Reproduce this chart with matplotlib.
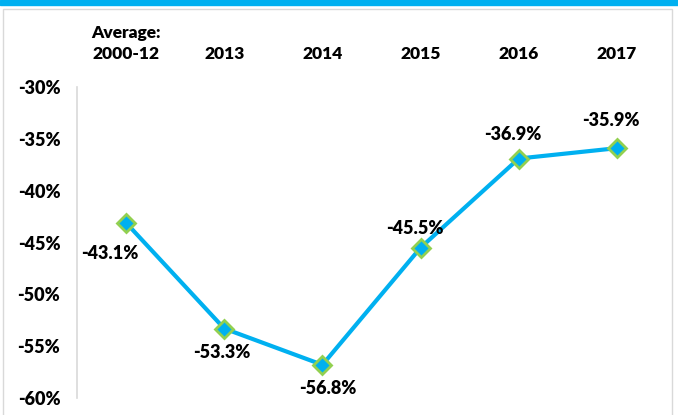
import matplotlib.pyplot as plt
from matplotlib.patches import Rectangle

categories = ['Average:\n2000-12', '2013', '2014', '2015', '2016', '2017']
values = [-43.1, -53.3, -56.8, -45.5, -36.9, -35.9]
yticks = [-30, -35, -40, -45, -50, -55, -60]

# label offsets (points) relative to each marker
offsets = [(-12, -22), (-2, -17), (4, -17), (-4, 14), (-4, 17), (-4, 20)]

blue = '#00B0F0'
green = '#92D050'
plt.rcParams['font.family'] = ['Lato', 'DejaVu Sans']

fig = plt.figure(figsize=(6.78, 4.15), dpi=100)
fig.patches.append(Rectangle((0, 1 - 5 / 415), 1, 5 / 415, transform=fig.transFigure,
                             color=blue, zorder=0))
fig.patches.append(Rectangle((3 / 678, -0.05), 669 / 678, 0.05 + 1 - 9 / 415,
                             transform=fig.transFigure, fill=False,
                             edgecolor='#D9D9D9', linewidth=1, zorder=0))

ax = fig.add_axes([77 / 678, 1 - 398 / 415, (666 - 77) / 678, (398 - 87) / 415])
x = list(range(len(values)))
ax.plot(x, values, color=blue, linewidth=3, marker='D', markersize=9,
        markerfacecolor=blue, markeredgecolor=green, markeredgewidth=2, zorder=3)

for xi, v, off in zip(x, values, offsets):
    ax.annotate(f'{v:.1f}%', (xi, v), xytext=off, textcoords='offset points',
                ha='center', va='center', fontsize=13, fontweight='heavy')

ax.set_xlim(-0.5, len(values) - 0.5)
ax.set_ylim(-60, -30)
ax.set_yticks(yticks)
ax.set_yticklabels([f'{t}%' for t in yticks], fontsize=13, fontweight='heavy')
ax.tick_params(axis='y', length=0, pad=12)
ax.set_xticks([])

for xi, c in zip(x, categories):
    ax.text(xi, 1.08, c, transform=ax.get_xaxis_transform(), ha='center', va='bottom',
            fontsize=12.5, fontweight='heavy', linespacing=1.4)

for s in ['top', 'right', 'bottom']:
    ax.spines[s].set_visible(False)
ax.spines['left'].set_color('#D9D9D9')
ax.spines['left'].set_linewidth(1.2)

fig.savefig('out.png', dpi=100)
